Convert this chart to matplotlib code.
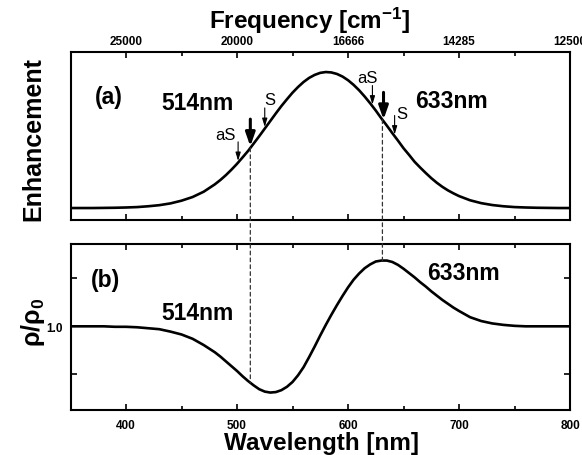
import numpy as np
import matplotlib
matplotlib.use("Agg")
import matplotlib.pyplot as plt
from matplotlib.patches import ConnectionPatch

plt.rcParams['font.family'] = ['Liberation Sans', 'DejaVu Sans']
plt.rcParams['mathtext.fontset'] = 'custom'
plt.rcParams['mathtext.rm'] = 'Liberation Sans'
plt.rcParams['mathtext.bf'] = 'Liberation Sans:bold'
plt.rcParams['mathtext.it'] = 'Liberation Sans:italic'

# wavelength grid (nm), denser where the curves bend
wl = [350, 360, 370, 380, 390, 400, 410, 420, 430, 440, 450, 460, 470,
      480, 485, 490, 495, 500, 505, 510, 515, 520, 525, 530, 535, 540, 545,
      550, 555, 560, 565, 570, 575, 580, 585, 590, 595, 600, 605, 610, 615,
      620, 625, 630, 635, 640, 645, 650, 655, 660, 665, 670, 675, 680, 685,
      690, 695, 700,
      710, 720, 730, 740, 750, 760, 770, 780, 790, 800]

# (a) enhancement, baseline 0, peak 1
enh = [0.0, 0.0, 0.0, 0.001, 0.002, 0.004, 0.007, 0.013, 0.021, 0.034, 0.054, 0.081, 0.12,
       0.174, 0.206, 0.242, 0.282, 0.325, 0.372, 0.42, 0.474, 0.528, 0.584, 0.64, 0.696, 0.75, 0.80,
       0.848, 0.89, 0.927, 0.957, 0.979, 0.994, 1.0, 0.997, 0.986, 0.967, 0.94, 0.906, 0.866, 0.82,
       0.77, 0.717, 0.66, 0.606, 0.55, 0.496, 0.44, 0.391, 0.34, 0.298, 0.258, 0.22, 0.186, 0.156,
       0.13, 0.108, 0.088,
       0.057, 0.036, 0.022, 0.013, 0.007, 0.004, 0.002, 0.001, 0.0, 0.0]

# (b) rho / rho0
rho = [1.0, 1.0, 1.0, 1.0, 0.999, 0.999, 0.998, 0.996, 0.994, 0.989, 0.983, 0.974, 0.961,
       0.946, 0.937, 0.927, 0.917, 0.907, 0.896, 0.886, 0.877, 0.869, 0.864, 0.862, 0.863, 0.867, 0.874,
       0.884, 0.898, 0.915, 0.936, 0.958, 0.981, 1.003, 1.024, 1.044, 1.063, 1.081, 1.097, 1.110, 1.121,
       1.129, 1.135, 1.137, 1.137, 1.134, 1.128, 1.120, 1.111, 1.102, 1.092, 1.083, 1.073, 1.064, 1.055,
       1.047, 1.039, 1.032,
       1.019, 1.011, 1.006, 1.003, 1.001, 1.0, 1.0, 1.0, 1.0, 1.0]

major_wl = [400, 500, 600, 700, 800]
freq_labels = ['25000', '20000', '16666', '14285', '12500']
laser_wl = [512, 631]          # dashed line positions as drawn
laser_names = ['514nm', '633nm']

# Stokes / anti-Stokes markers: (wavelength, label, thick?)
marks_wl = [501, 512, 525, 622, 632, 642]
marks_txt = ['aS', '', 'S', 'aS', '', 'S']
marks_thick = [False, True, False, False, True, False]

W, H = 582, 456
fig = plt.figure(figsize=(W / 100, H / 100), dpi=100)

L, R = 70.5, 570
ax1 = fig.add_axes([L / W, 1 - 221 / H, (R - L) / W, (221 - 52.5) / H])
ax2 = fig.add_axes([L / W, 1 - 410.5 / H, (R - L) / W, (410.5 - 245) / H])

for ax in (ax1, ax2):
    for s in ax.spines.values():
        s.set_linewidth(1.5)
    ax.set_xlim(350, 800)
    ax.set_xticks(major_wl)
    ax.set_xticks(np.arange(350, 801, 50), minor=True)
    ax.tick_params(which='both', direction='in', top=True, bottom=True, width=1.2)
    ax.tick_params(which='major', length=4.5)
    ax.tick_params(which='minor', length=2.6)

# top panel
ax1.plot(wl, enh, color='black', lw=1.9)
ax1.set_ylim(-0.088, 1.151)
ax1.set_yticks([])
ax1.set_xticklabels(freq_labels)
ax1.tick_params(axis='x', labeltop=True, labelbottom=False, labelsize=8.5, pad=3.5)
for t in ax1.get_xticklabels():
    t.set_fontweight('bold')

ax1.text(372, 0.82, '(a)', fontsize=16.5, fontweight='bold', va='center', ha='left')
ax1.text(432, 0.777, laser_names[0], fontsize=16.5, fontweight='bold', va='center', ha='left')
ax1.text(660.4, 0.789, laser_names[1], fontsize=16.5, fontweight='bold', va='center', ha='left')

for x, lab, thick in zip(marks_wl, marks_txt, marks_thick):
    yc = np.interp(x, wl, enh) + 0.012
    if thick:
        ln = 0.20
        props = dict(arrowstyle='-|>,head_width=0.28,head_length=0.8', lw=2.2,
                     color='black', shrinkA=0, shrinkB=0, mutation_scale=10)
    else:
        ln = 0.14
        props = dict(arrowstyle='-|>,head_width=0.15,head_length=0.5', lw=0.8,
                     color='black', shrinkA=0, shrinkB=0, mutation_scale=10)
    ax1.annotate('', xy=(x, yc), xytext=(x, yc + ln), arrowprops=props)
    if lab == 'aS' and x < 550:
        ax1.annotate(lab, xy=(x, yc + ln), xytext=(-2, 0), textcoords='offset pixels',
                     ha='right', va='bottom', fontsize=12)
    elif lab == 'aS':
        ax1.annotate(lab, xy=(x, yc + ln), xytext=(5, 1), textcoords='offset pixels',
                     ha='right', va='bottom', fontsize=12)
    elif lab == 'S' and x < 550:
        ax1.annotate(lab, xy=(x, yc + ln), xytext=(0, 1), textcoords='offset pixels',
                     ha='left', va='bottom', fontsize=12)
    elif lab == 'S':
        ax1.annotate(lab, xy=(x, yc + ln), xytext=(2, 2), textcoords='offset pixels',
                     ha='left', va='center', fontsize=12)

# bottom panel
ax2.plot(wl, rho, color='black', lw=1.9)
ax2.set_ylim(0.8267, 1.1715)
ax2.set_yticks([0.9, 1.0, 1.1])
ax2.set_yticklabels(['', '1.0', ''])
ax2.tick_params(axis='y', which='major', direction='in', left=True, right=True, length=4.5, pad=5.5)
ax2.tick_params(axis='x', labelsize=8.5, pad=7)
ax2.tick_params(axis='y', labelsize=8.5)
for t in ax2.get_xticklabels() + ax2.get_yticklabels():
    t.set_fontweight('bold')

ax2.text(368, 1.0985, '(b)', fontsize=16.5, fontweight='bold', va='center', ha='left')
ax2.text(432, 1.029, laser_names[0], fontsize=16.5, fontweight='bold', va='center', ha='left')
ax2.text(670.9, 1.1125, laser_names[1], fontsize=16.5, fontweight='bold', va='center', ha='left')

# dashed guide lines across both panels
for x in laser_wl:
    con = ConnectionPatch(xyA=(x, np.interp(x, wl, enh)), coordsA=ax1.transData,
                          xyB=(x, np.interp(x, wl, rho)), coordsB=ax2.transData,
                          color='#333333', lw=0.9, linestyle=(0, (3, 2.5)))
    fig.add_artist(con)

# axis titles
fig.text(33 / W, 1 - 139 / H, 'Enhancement', rotation=90, fontsize=18,
         fontweight='bold', ha='center', va='center')
fig.text(33 / W, 1 - 322 / H, r'ρ/ρ$_\mathbf{0}$', rotation=90, fontsize=18,
         fontweight='bold', ha='center', va='center')
fig.text(310 / W, 1 - 21 / H, r'Frequency [cm$^{\mathbf{-1}}$]', fontsize=17.5,
         fontweight='bold', ha='center', va='center')
fig.text(321 / W, 1 - 444 / H, 'Wavelength [nm]', fontsize=17.5,
         fontweight='bold', ha='center', va='center')

fig.savefig('out.png', dpi=100)
